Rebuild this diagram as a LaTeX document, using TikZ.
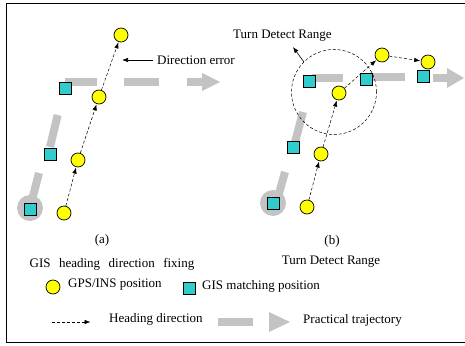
\documentclass[tikz,border=0pt]{standalone}
\usepackage{fontspec}
\setmainfont{Liberation Serif}
\usetikzlibrary{arrows.meta}
\definecolor{gpsyellow}{RGB}{255,255,0}
\definecolor{gisteal}{RGB}{51,204,204}
\definecolor{trajgray}{RGB}{195,195,195}
\begin{document}
\begin{tikzpicture}[x=1pt,y=-1pt,
  gps/.style={circle,draw=black,fill=gpsyellow,line width=0.7pt,minimum size=14pt,inner sep=0pt},
  gis/.style={rectangle,draw=black,fill=gisteal,line width=0.7pt,minimum size=12pt,inner sep=0pt},
  traj/.style={draw=trajgray,line width=8pt},
  trajhead/.style={fill=trajgray},
  heading/.style={draw=black,dashed,line width=0.5pt,dash pattern=on 3pt off 2pt,-{Latex[length=6pt,width=4.5pt]},shorten >=0.5pt},
  lbl/.style={font=\fontsize{13}{15}\selectfont,inner sep=0pt},
]
\useasboundingbox (0,0) rectangle (465,345);
\draw[line width=0.9pt] (466,3.3) -- (6.3,3.3) -- (6.3,342) -- (466,342);

% ---------- panel (a) ----------
\fill[trajgray] (30,208) circle (13);
\draw[traj] (39,173) -- (32,200);
\draw[traj] (57.7,115) -- (50,147);
\draw[traj] (65,82) -- (97,82);
\draw[traj] (124,82) -- (159,82);
\draw[traj] (187,82) -- (202,82);
\fill[trajhead] (202,73) -- (220,82) -- (202,91) -- cycle;

\node[gis] (sa1) at (30,209) {};
\node[gis] (sa2) at (50,154) {};
\node[gis] (sa3) at (65,88) {};

\node[gps] (ca1) at (64,213) {};
\node[gps] (ca2) at (78,160) {};
\node[gps] (ca3) at (99,97) {};
\node[gps] (ca4) at (121,35) {};

\draw[heading] (ca1) -- (ca2);
\draw[heading] (ca2) -- (ca3);
\draw[heading] (ca3) -- (ca4);

\node[lbl,anchor=west] (derr) at (157,60) {Direction error};
\coordinate (derrtip) at (122,60);
\draw[line width=0.6pt,-{Latex[length=6pt,width=4.5pt]}] ([xshift=-4pt]derr.west) -- (derrtip);

% ---------- panel (b) ----------
\fill[trajgray] (273,203) circle (13);
\draw[traj] (285,172) -- (278,197);
\draw[traj] (303,112) -- (295,142);
\draw[traj] (312,78) -- (343,78);
\draw[traj] (372,77) -- (405,77);
\draw[traj] (433,78) -- (447,78);
\fill[trajhead] (447,68) -- (464,78) -- (447,88) -- cycle;

\node[circle,draw=black,dashed,dash pattern=on 3pt off 2pt,line width=0.5pt,minimum size=85pt,inner sep=0pt] (range) at (334,92) {};

\node[gis] (sb1) at (273,203) {};
\node[gis] (sb2) at (293,147) {};
\node[gis] (sb3) at (309,81) {};
\node[gis] (sb4) at (366,79) {};
\node[gis] (sb5) at (423,76) {};

\node[gps] (cb1) at (307,207) {};
\node[gps] (cb2) at (321,154) {};
\node[gps] (cb3) at (339,93) {};
\node[gps] (cb4) at (382,55) {};
\node[gps] (cb5) at (428,62) {};

\draw[heading] (cb1) -- (cb2);
\draw[heading] (cb2) -- (cb3);
\draw[heading] (cb3) -- (cb4);
\draw[heading] (cb4) -- (cb5);

\node[lbl,anchor=west] (tdr) at (233,36) {Turn Detect Range};
\coordinate (tdrtip) at (293,47);
\draw[line width=0.6pt,-{Latex[length=6pt,width=4.5pt]}] (range.135) -- (tdrtip);

% ---------- captions ----------
\node[lbl] (capa) at (102,240) {(a)};
\node[lbl] (capat) at (112,264) {GIS\hspace{0.4em} heading\hspace{0.4em} direction\hspace{0.4em} fixing};
\node[lbl] (capb) at (332,241) {(b)};
\node[lbl] (capbt) at (331,262) {Turn Detect Range};

% ---------- legend ----------
\node[gps] (lgps) at (53,287) {};
\node[lbl,anchor=west] (lgpst) at (68,285) {GPS/INS position};
\node[gis] (lgis) at (189,288) {};
\node[lbl,anchor=west] (lgist) at (202,286) {GIS matching position};

\coordinate (lh1) at (52,322);
\coordinate (lh2) at (91,322);
\draw[heading] (lh1) -- (lh2);
\node[lbl,anchor=west] (lht) at (109,319) {Heading direction};
\draw[traj] (218,322) -- (253,322);
\fill[trajhead] (269,312) -- (290,322) -- (269,332) -- cycle;
\node[lbl,anchor=west] (lpt) at (303,320) {Practical trajectory};
\end{tikzpicture}
\end{document}
